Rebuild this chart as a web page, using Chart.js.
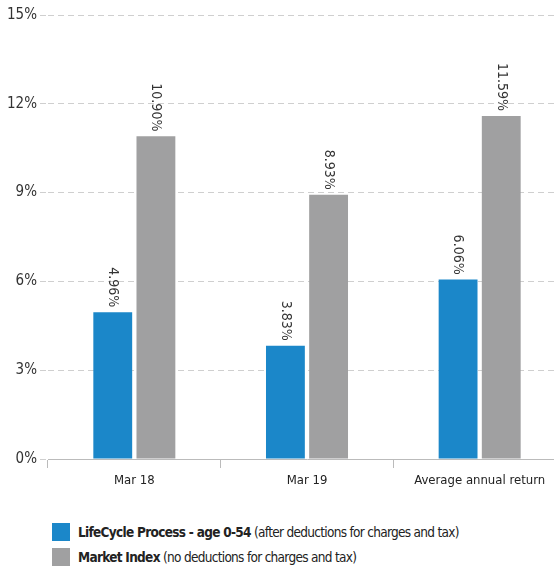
<!DOCTYPE html>
<html>
<head>
<meta charset="utf-8">
<script src="https://cdn.jsdelivr.net/npm/chart.js@4.4.0/dist/chart.umd.min.js"></script>
<style>
  html, body { margin: 0; padding: 0; background: #fff; overflow: hidden; }
  #wrap { position: relative; width: 566px; height: 500px; }
  #legend { margin-top: 19px; margin-left: 52px; font-family: 'DejaVu Sans Condensed', sans-serif; font-size: 13.5px; letter-spacing: -0.7px; color: #222; }
  .row { display: flex; align-items: center; height: 25px; }
  .box { width: 18px; height: 18px; margin-right: 8px; }
  .row b { font-weight: bold; }
</style>
</head>
<body>
<div id="wrap"><canvas id="graf"></canvas></div>
<div id="legend"></div>
<script>
// dados do gráfico
const categorias = ['Mar 18', 'Mar 19', 'Average annual return'];
const lifeCycle = [4.96, 3.83, 6.06];
const marketIndex = [10.90, 8.93, 11.59];
const yTicks = [0, 3, 6, 9, 12, 15];

const nomes = ['LifeCycle Process - age 0-54', 'Market Index'];
const notas = [' (after deductions for charges and tax)', ' (no deductions for charges and tax)'];
const cores = ['#1b87c9', '#a0a0a1'];

const FONTE = "'DejaVu Sans Condensed', sans-serif";

// Plugin para escrever os valores rotacionados em cima das barras
const barLabelsPlugin = {
  id: 'barLabels',
  afterDatasetsDraw(chart) {
    const { ctx } = chart;
    ctx.save();
    ctx.font = '14px ' + FONTE;
    ctx.fillStyle = '#333';
    ctx.textAlign = 'right';
    ctx.textBaseline = 'middle';
    chart.data.datasets.forEach((ds, i) => {
      chart.getDatasetMeta(i).data.forEach((bar, j) => {
        ctx.save();
        ctx.translate(bar.x, bar.y - 5);
        ctx.rotate(Math.PI / 2);
        ctx.fillText(ds.data[j].toFixed(2) + '%', 0, 0);
        ctx.restore();
      });
    });
    ctx.restore();
  }
};

new Chart(document.getElementById('graf'), {
  type: 'bar',
  data: {
    labels: categorias,
    datasets: [
      { label: nomes[0], data: lifeCycle, backgroundColor: cores[0] },
      { label: nomes[1], data: marketIndex, backgroundColor: cores[1] }
    ]
  },
  options: {
    responsive: true,
    maintainAspectRatio: false,
    animation: false,
    layout: { padding: { top: 15, right: 0 } },
    datasets: { bar: { categoryPercentage: 0.5, barPercentage: 0.9 } },
    plugins: { legend: { display: false }, tooltip: { enabled: false } },
    scales: {
      x: {
        afterFit(scale) { scale.height = 41; },
        grid: { offset: true, drawOnChartArea: false, color: '#bbb', tickLength: 9 },
        border: { color: '#bbb' },
        ticks: { color: '#222', font: { family: FONTE, size: 13 }, padding: 5 }
      },
      y: {
        min: 0,
        max: 15,
        afterFit(scale) { scale.width = 48; },
        afterBuildTicks(scale) { scale.ticks = yTicks.map(v => ({ value: v })); },
        grid: { color: '#cfcfcf', tickLength: 8, tickBorderDash: [6, 4] },
        border: { display: false, dash: [6, 4] },
        ticks: {
          color: '#333',
          font: { family: FONTE, size: 15 },
          padding: 3,
          callback: v => v + '%'
        }
      }
    }
  },
  plugins: [barLabelsPlugin]
});

// legenda em HTML (parte em negrito)
const legend = document.getElementById('legend');
nomes.forEach((nome, i) => {
  const row = document.createElement('div');
  row.className = 'row';
  row.innerHTML = `<span class="box" style="background:${cores[i]}"></span><span><b>${nome}</b>${notas[i]}</span>`;
  legend.appendChild(row);
});
</script>
</body>
</html>
